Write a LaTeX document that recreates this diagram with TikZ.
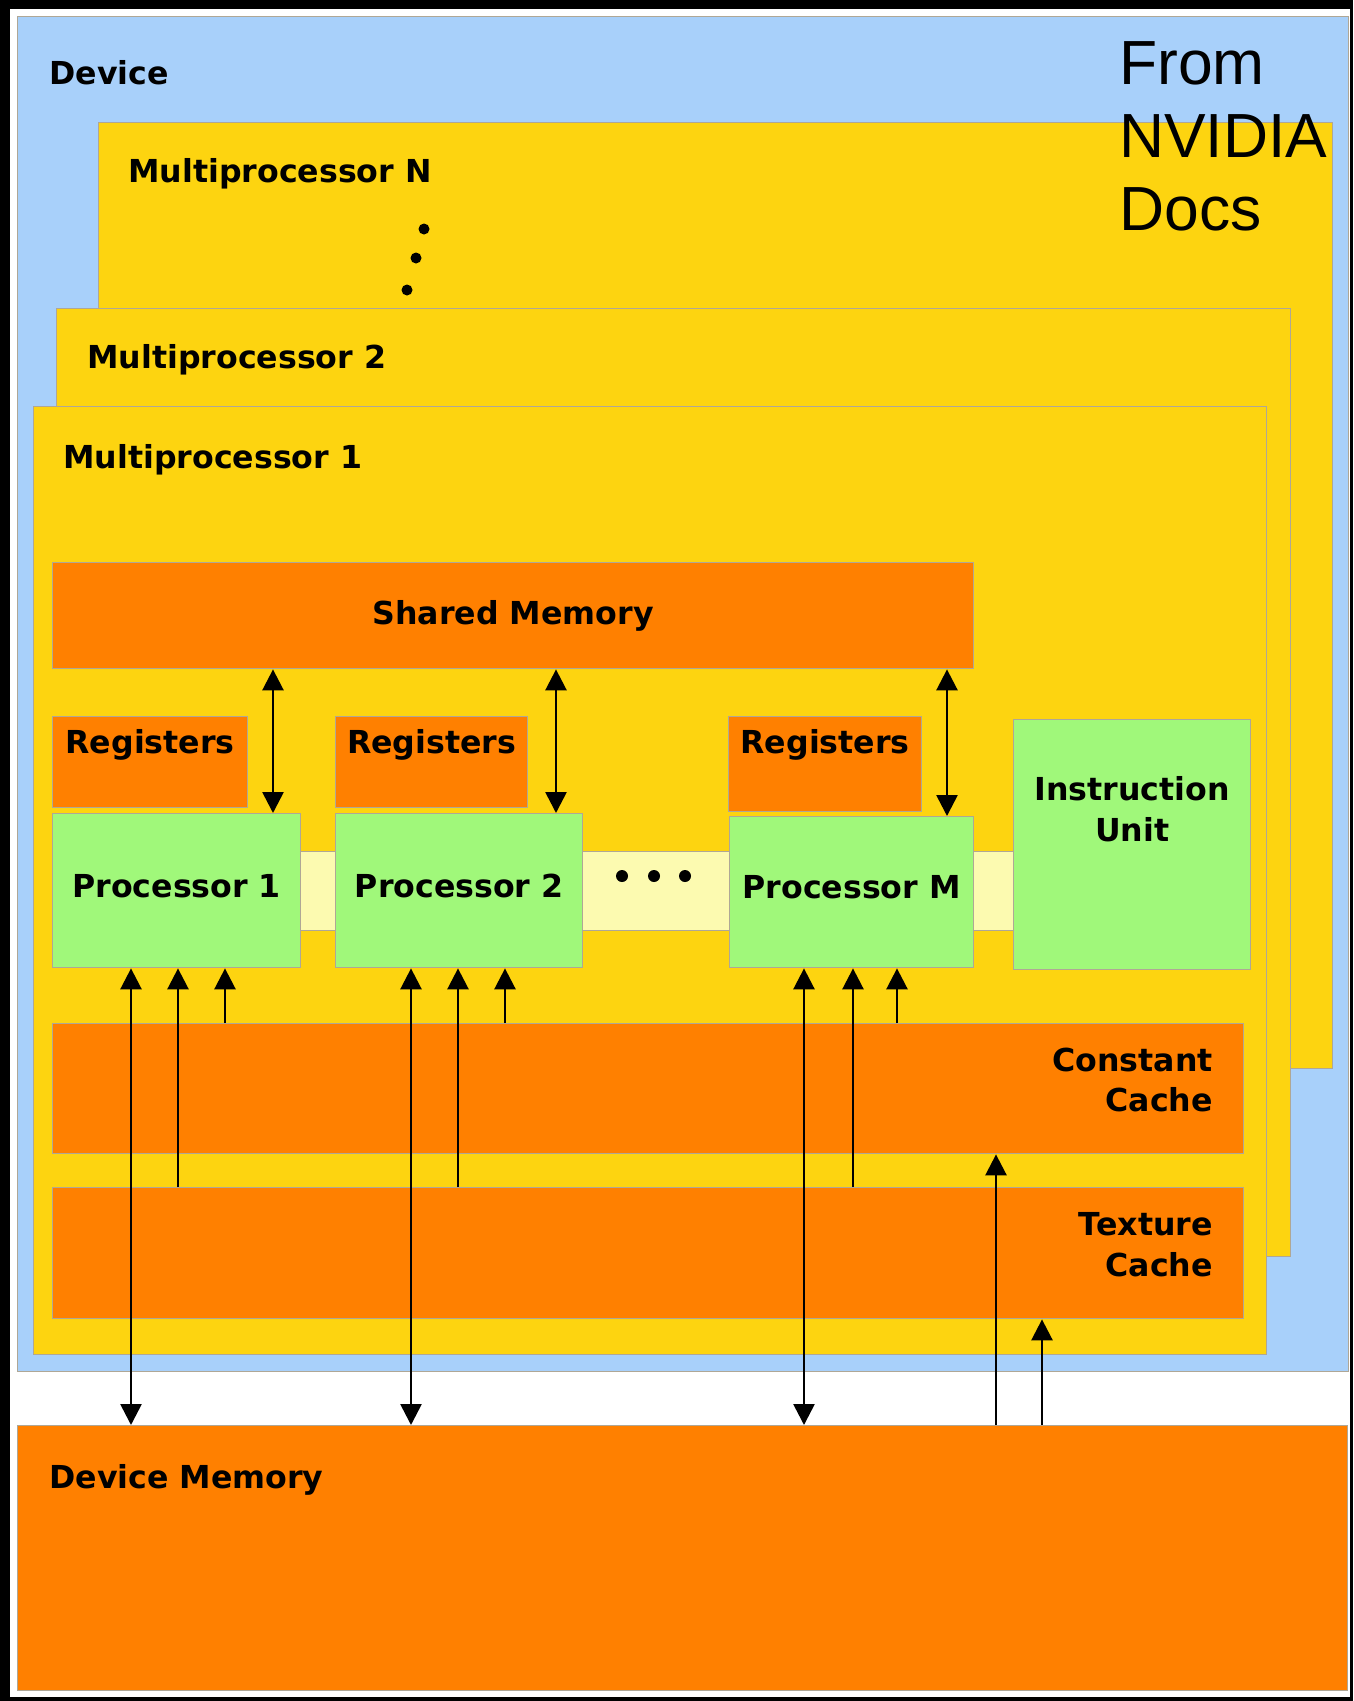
\documentclass[tikz,border=0pt]{standalone}
\usepackage{fontspec}
\setmainfont{DejaVu Sans}
\newfontfamily\notefont{Liberation Sans}
\usepackage{xcolor}
\usetikzlibrary{arrows.meta, positioning, calc}
\definecolor{DevBlue}{HTML}{A8D0FA}
\definecolor{MPYellow}{HTML}{FDD410}
\definecolor{MemOrange}{HTML}{FF8000}
\definecolor{ProcGreen}{HTML}{A0F87A}
\definecolor{BarYellow}{HTML}{FCFAB0}
\definecolor{EdgeGray}{HTML}{AFA796}
\tikzset{
    % Plain boxes, placed by their top left corner
    box/.style={
        rectangle,
        draw=EdgeGray,
        line width=0.8pt,
        anchor=north west,
        inner sep=0pt,
        align=center,
        font=\bfseries\fontsize{18}{23}\selectfont
    },
    box blue/.style={box, fill=DevBlue},
    box yellow/.style={box, fill=MPYellow},
    box orange/.style={box, fill=MemOrange},
    box green/.style={box, fill=ProcGreen},
    box pale/.style={box, fill=BarYellow},
    label text/.style={
        inner sep=0pt,
        font=\bfseries\fontsize{18}{23}\selectfont
    },
    arrow style/.style={
        ->,
        >={Triangle[length=0.42cm, width=0.42cm]},
        line width=1.5pt,
        black
    },
    biarrow style/.style={
        <->,
        >={Triangle[length=0.42cm, width=0.42cm]},
        line width=1.5pt,
        black
    }
}
\begin{document}
\begin{tikzpicture}[x=0.02cm, y=-0.02cm]
        % Frame
        \fill[black] (0,0) rectangle (1353,1701);
        \fill[white] (10,9) rectangle (1350,1697);
        \useasboundingbox (0,0) rectangle (1353,1701);

        % Device and the stacked multiprocessors
        \node[box blue, minimum width=26.62cm, minimum height=27.10cm] (device) at (17,16) {};
        \node[box yellow, minimum width=24.68cm, minimum height=18.92cm] (mp-n) at (98,122) {};
        \node[box yellow, minimum width=24.68cm, minimum height=18.96cm] (mp-2) at (56,308) {};
        \node[box yellow, minimum width=24.66cm, minimum height=18.96cm] (mp-1) at (33,406) {};

        \node[label text, anchor=base west] (device-label) at ([xshift=0.64cm, yshift=-1.38cm]device.north west) {Device};
        \node[label text, anchor=base west] (mp-n-label) at ([xshift=0.6cm, yshift=-1.22cm]mp-n.north west) {Multiprocessor N};
        \node[label text, anchor=base west] (mp-2-label) at ([xshift=0.62cm, yshift=-1.22cm]mp-2.north west) {Multiprocessor 2};
        \node[label text, anchor=base west] (mp-1-label) at ([xshift=0.6cm, yshift=-1.26cm]mp-1.north west) {Multiprocessor 1};
        \foreach \x/\y in {424/229, 416/258, 407/290}
            \fill (\x,\y) circle[radius=0.11cm];

        \node[font=\notefont\fontsize{35.5}{41.5}\selectfont, anchor=north west, align=left, inner sep=0pt] (source-note) at (1119,41) {From\\NVIDIA\\Docs};

        % Multiprocessor 1
        \node[box orange, minimum width=18.42cm, minimum height=2.12cm] (shared) at (52,562) {Shared Memory};
        \node[box orange, minimum width=3.90cm, minimum height=1.82cm] (reg-1) at (52,716) {};
        \node[box orange, minimum width=3.84cm, minimum height=1.82cm] (reg-2) at (335,716) {};
        \node[box orange, minimum width=3.86cm, minimum height=1.90cm] (reg-m) at (728,716) {};
        \foreach \r in {reg-1, reg-2, reg-m}
            \node[label text, anchor=base] (\r-label) at ([yshift=-0.74cm]\r.north) {Registers};

        \node[box pale, minimum width=14.26cm, minimum height=1.58cm] (bar) at (300,851) {};
        \foreach \x in {622, 654, 685}
            \fill (\x,876) circle[radius=0.12cm];

        \node[box green, text depth=0.2cm, minimum width=4.96cm, minimum height=3.08cm] (proc-1) at (52,813) {Processor 1};
        \node[box green, text depth=0.2cm, minimum width=4.94cm, minimum height=3.08cm] (proc-2) at (335,813) {Processor 2};
        \node[box green, text depth=0.2cm, minimum width=4.88cm, minimum height=3.02cm] (proc-m) at (729,816) {Processor M};
        \node[box green, minimum width=4.74cm, minimum height=5.00cm] (iunit) at (1013,719) {};
        \node[label text, anchor=north, align=center] (iunit-label) at ([yshift=-1.15cm]iunit.north) {Instruction\\Unit};

        \node[box orange, minimum width=23.82cm, minimum height=2.60cm] (const) at (52,1023) {};
        \node[label text, anchor=north east, align=right] (const-label) at ([xshift=-0.62cm, yshift=-0.49cm]const.north east) {Constant\\Cache};
        \node[box orange, minimum width=23.82cm, minimum height=2.62cm] (tex) at (52,1187) {};
        \node[label text, anchor=north east, align=right] (tex-label) at ([xshift=-0.62cm, yshift=-0.51cm]tex.north east) {Texture\\Cache};

        % Device memory
        \node[box orange, minimum width=26.60cm, minimum height=5.30cm] (devmem) at (17,1425) {};
        \node[label text, anchor=base west] (devmem-label) at ([xshift=0.64cm, yshift=-1.26cm]devmem.north west) {Device Memory};

        % Arrows
        \draw[biarrow style] (273,0 |- shared.south) -- (273,0 |- proc-1.north);
        \draw[biarrow style] (556,0 |- shared.south) -- (556,0 |- proc-2.north);
        \draw[biarrow style] (947,0 |- shared.south) -- (947,0 |- proc-m.north);
        \foreach \p/\a/\b/\c in {proc-1/131/178/225, proc-2/411/458/505, proc-m/804/853/897} {
            \draw[biarrow style] (\a,0 |- \p.south) -- (\a,0 |- devmem.north);
            \draw[arrow style] (\b,0 |- tex.north) -- (\b,0 |- \p.south);
            \draw[arrow style] (\c,0 |- const.north) -- (\c,0 |- \p.south);
        }
        \draw[arrow style] (996,0 |- devmem.north) -- (996,0 |- const.south);
        \draw[arrow style] (1042,0 |- devmem.north) -- (1042,0 |- tex.south);
    \end{tikzpicture}
\end{document}
